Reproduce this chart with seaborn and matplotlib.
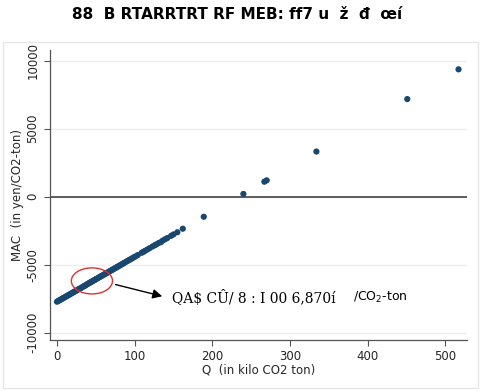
import matplotlib
matplotlib.use("Agg")
import matplotlib.pyplot as plt
from matplotlib.patches import Ellipse, Rectangle
import seaborn as sns
import pandas as pd

# Abatement quantity (kilo CO2 ton) and marginal abatement cost (yen/CO2-ton)
q_vals = [0, 1.5, 3, 4, 5.5, 7, 8, 9.5, 11, 12.5, 14, 15, 16.5, 18, 19.5, 21, 22, 23.5,
          25, 26.5, 28, 29, 30.5, 32, 33.5, 35, 36, 37.5, 39, 40.5, 42, 43, 44.5, 46, 47.5,
          49, 50, 51.5, 53, 54.5, 56, 57, 58.5, 60, 61.5, 63, 64, 65.5, 67, 68.5, 70, 71,
          72.5, 74, 75.5, 77, 78, 79.5, 81, 82.5, 84, 85.5, 87, 89, 91, 93, 95, 97, 99, 101,
          104, 109, 111, 113, 116, 119, 123, 126, 128, 131, 134, 136, 139, 142, 147, 150,
          155, 162, 189, 240, 267, 270, 334, 451, 517]
mac_vals = [-7730, -7680, -7630, -7600, -7550, -7500, -7470, -7420, -7370, -7320, -7270,
            -7240, -7190, -7140, -7090, -7040, -7010, -6960, -6910, -6860, -6810, -6780,
            -6730, -6680, -6630, -6580, -6550, -6500, -6440, -6390, -6340, -6310, -6260,
            -6210, -6160, -6110, -6080, -6030, -5980, -5930, -5880, -5850, -5800, -5750,
            -5700, -5650, -5620, -5570, -5520, -5470, -5420, -5390, -5340, -5290, -5240,
            -5190, -5160, -5110, -5060, -5010, -4960, -4910, -4860, -4790, -4730, -4660,
            -4600, -4530, -4460, -4400, -4300, -4130, -4070, -4000, -3900, -3800, -3670,
            -3570, -3510, -3410, -3340, -3240, -3140, -3050, -2880, -2780, -2620, -2360,
            -1480, 200, 1100, 1200, 3320, 7180, 9370]

x_ticks = [0, 100, 200, 300, 400, 500]
y_ticks = [-10000, -5000, 0, 5000, 10000]

title_text = "88  B RTARRTRT RF MEB: ff7 u  ž  đ  œí"
note_text = "QA\\$ CÛ/ 8 : I 00 6,870í"
unit_text = "/CO$_2$-ton"

df = pd.DataFrame({"Q": q_vals, "MAC": mac_vals})

sns.set_style("white")
plt.rcParams["font.family"] = ["DejaVu Sans"]

fig = plt.figure(figsize=(4.83, 3.91), dpi=100)
# light outer frame like the Stata graph region
fig.patches.append(Rectangle((0.006, 0.008), 0.984, 0.885, transform=fig.transFigure,
                             fill=False, edgecolor="#e6e6e6", linewidth=1))
ax = fig.add_axes([0.1035, 0.1304, 0.8635, 0.742])

sns.scatterplot(data=df, x="Q", y="MAC", ax=ax, color="#1a476f", s=20,
                edgecolor="none", zorder=3)

ax.axhline(0, color="#333333", linewidth=1.1, zorder=2)
ax.set_xlim(-9, 528)
ax.set_ylim(-10550, 10800)
ax.set_xticks(x_ticks)
ax.set_yticks(y_ticks)
ax.set_yticklabels([str(v) for v in y_ticks], rotation=90, va="center")
ax.tick_params(axis="both", labelsize=8.5, length=4, direction="out",
               color="#555555", bottom=True, left=True)
ax.grid(axis="y", color="#eeeeee", linewidth=1)
for side in ["top", "right"]:
    ax.spines[side].set_visible(False)
for side in ["left", "bottom"]:
    ax.spines[side].set_color("#555555")
    ax.spines[side].set_linewidth(0.9)

ax.set_xlabel("Q  (in kilo CO2 ton)", fontsize=8.5, labelpad=0)
ax.set_ylabel("MAC  (in yen/CO2-ton)", fontsize=8.5, labelpad=2)

# highlight circle and arrow with note
ax.add_patch(Ellipse((45, -6200), 53, 1920, fill=False, edgecolor="#e03030",
                     linewidth=1, zorder=4))
ax.annotate("", xy=(139, -7380), xytext=(72, -6420),
            arrowprops=dict(arrowstyle="-|>", color="black", lw=1,
                            mutation_scale=14))
ax.text(148, -7450, note_text, fontsize=10, va="center", ha="left",
        color="black", family=["DejaVu Serif"])
ax.text(381, -7450, unit_text, fontsize=9, va="center", ha="left", color="black")

fig.text(0.49, 0.962, title_text, fontsize=11, fontweight="bold", ha="center",
         va="center", color="black",
         family=["Liberation Sans Narrow", "DejaVu Sans"])

fig.savefig("out.png", dpi=100)
